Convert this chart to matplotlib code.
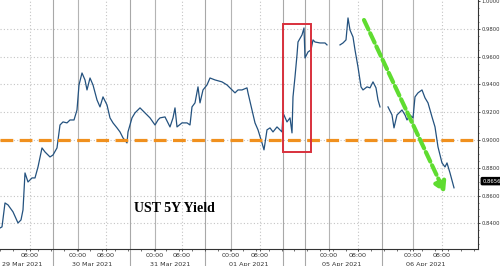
import numpy as np
import matplotlib
matplotlib.use("Agg")
import matplotlib.pyplot as plt
from matplotlib.ticker import MultipleLocator, FixedLocator
import matplotlib.transforms as mtransforms

# Bar index on the compressed (trading-session) time axis, and the 5Y yield
nan = np.nan
bar = [0, 2, 5, 8, 13, 18, 21, 23, 25, 28, 32, 35, 38, 42, 45, 50, 53, 57, 60,
       63, 67, 70, 74, 77, 79, 82, 85, 87, 90, 93, 97, 100, 103, 107, 110, 113,
       117, 120, 123, 127, 128, 132, 135, 140, 145, 150, 155, 158,
       160, 165, 170, 173, 175, 177, 182, 187, 190, 192, 195, 198, 200, 203,
       207, 210, 215, 222, 227, 232, 235, 238, 242, 247, 248, 252, 255, 258,
       262, 264, 267, 270, 273, 277, 280, 282, 283, 287, 290, 292, 293, 295,
       297, 298, 302, 304, 305, 308, 311, 313, 315, 320, 325, 327,
       333,
       340, 343, 346, 348, 350, 353, 355, 358, 361, 363, 367, 370, 373, 376,
       378, 380,
       384,
       388, 392, 394, 397, 402, 405, 407, 410, 413, 415, 418, 422, 425, 428,
       432, 435, 438, 442, 445, 447, 450, 454]
yld = [0.8367, 0.8375, 0.8547, 0.8533, 0.8483, 0.8403, 0.8425, 0.8497, 0.8763,
       0.8698, 0.8727, 0.8727, 0.8806, 0.8943, 0.8914, 0.8878, 0.8892, 0.8943,
       0.9108, 0.9130, 0.9123, 0.9144, 0.9144, 0.9216, 0.9396, 0.9482, 0.9432,
       0.9360, 0.9446, 0.9396, 0.9288, 0.9238, 0.9310, 0.9252, 0.9159, 0.9123,
       0.9087, 0.9058, 0.9015, 0.8979, 0.9058, 0.9159, 0.9195, 0.9231, 0.9195,
       0.9159, 0.9108, 0.9144,
       0.9159, 0.9166, 0.9094, 0.9159, 0.9231, 0.9094, 0.9123, 0.9123, 0.9108,
       0.9238, 0.9267, 0.9382, 0.9267, 0.9360, 0.9396, 0.9446, 0.9432, 0.9418,
       0.9396, 0.9360, 0.9339, 0.9360, 0.9360, 0.9375, 0.9339, 0.9216, 0.9123,
       0.9073, 0.8979, 0.8929, 0.9073, 0.9087, 0.9058, 0.9094, 0.9073, 0.9058,
       0.9195, 0.9130, 0.9159, 0.9051, 0.9310, 0.9454, 0.9612, 0.9705, 0.9756,
       0.9806, 0.9590, 0.9633, 0.9648, 0.9720, 0.9705, 0.9698, 0.9698, 0.9684,
       nan,
       0.9684, 0.9698, 0.9720, 0.9878, 0.9791, 0.9741, 0.9648, 0.9525, 0.9382,
       0.9360, 0.9382, 0.9375, 0.9418, 0.9375, 0.9288, 0.9238,
       nan,
       0.9238, 0.9180, 0.9087, 0.9180, 0.9216, 0.9180, 0.9144, 0.9180, 0.9159,
       0.9310, 0.9339, 0.9360, 0.9303, 0.9267, 0.9166, 0.9094, 0.8950, 0.8835,
       0.8806, 0.8835, 0.8763, 0.8656]
last_value = 0.8656

# axis furniture
hour_ticks = [30, 78, 106, 155, 182, 231, 260, 329, 358, 413, 442]
hour_labels = ["08:00", "00:00", "08:00", "00:00", "08:00", "00:00", "08:00",
               "00:00", "08:00", "00:00", "08:00"]
midnights = [78, 155, 231, 329, 413]
mornings = [30, 106, 182, 260, 358, 442]
day_breaks = [53, 130, 205, 283, 305, 382]
date_pos = [2, 72, 150, 229, 322, 406]
date_labels = ["29 Mar 2021", "30 Mar 2021", "31 Mar 2021", "01 Apr 2021",
               "05 Apr 2021", "06 Apr 2021"]

fig = plt.figure(figsize=(5, 2.66), dpi=100)
ax = fig.add_axes([0, 0.064, 0.956, 0.936])
ax.set_xlim(0, 478)
ax.set_ylim(0.8216, 1.0007)

# grid
for yv in np.arange(0.84, 0.99, 0.02):
    ax.axhline(yv, color="#c4c4c4", lw=0.8, ls=(0, (1, 2)), zorder=0)
for xv in mornings:
    ax.axvline(xv, color="#c4c4c4", lw=0.8, ls=(0, (1, 2)), zorder=0)
for xv in midnights:
    ax.axvline(xv, color="#b4b4b4", lw=0.8, zorder=0)
for xv in day_breaks:
    ax.axvline(xv, ymin=-0.07, ymax=1, color="#a8a8a8", lw=0.8, zorder=0,
               clip_on=False)

# series
ax.plot(bar, yld, color="#24527f", lw=0.9, zorder=3)

# annotations
ax.axhline(0.90, color="#f0901e", lw=2.3, ls=(0, (4, 2)), zorder=4)
ax.add_patch(plt.Rectangle((283, 0.8914), 28, 0.0921, fill=False,
                           ec="#d8303c", lw=1.4, zorder=5))
ax.annotate("", xy=(445, 0.8619), xytext=(364, 0.9863),
            arrowprops=dict(arrowstyle="-|>,head_width=0.35,head_length=0.6",
                            color="#5fdc30", lw=3, ls=(0, (2.5, 1)),
                            shrinkA=0, shrinkB=0), zorder=6)
ax.text(174, 0.8505, "UST 5Y Yield", family="Liberation Serif",
        fontweight="bold", fontsize=10, ha="center", va="center")

# axes styling
for s in ["top", "left"]:
    ax.spines[s].set_visible(False)
for s in ["bottom", "right"]:
    ax.spines[s].set_color("#333333")
    ax.spines[s].set_linewidth(0.8)

ax.yaxis.tick_right()
ax.yaxis.set_major_locator(FixedLocator(np.arange(0.84, 1.001, 0.02)))
ax.yaxis.set_minor_locator(MultipleLocator(0.005))
ax.yaxis.set_major_formatter(plt.FuncFormatter(lambda v, p: f"{v:.4f}"))
ax.tick_params(axis="y", which="major", labelsize=3.8, length=1.5, width=0.6,
               pad=0.8, colors="#333333")
ax.tick_params(axis="y", which="minor", length=1.0, width=0.5,
               colors="#333333")

ax.set_xticks(hour_ticks)
ax.set_xticklabels(hour_labels)
ax.xaxis.set_minor_locator(MultipleLocator(12.8))
ax.tick_params(axis="x", which="major", labelsize=4.6, length=1.5, width=0.6,
               pad=1.5, colors="#333333")
ax.tick_params(axis="x", which="minor", length=1.2, width=0.5,
               colors="#333333")

trans = mtransforms.blended_transform_factory(ax.transData, ax.transAxes)
for xp, lab in zip(date_pos, date_labels):
    ax.text(xp, -0.062, lab, transform=trans, fontsize=4.6, color="#333333",
            ha="left", va="center")

# last value tag
trans_y = mtransforms.blended_transform_factory(ax.transAxes, ax.transData)
ax.text(1.009, last_value + 0.0048, f"{last_value:.4f}", transform=trans_y,
        fontsize=3.8, color="white", ha="left", va="center",
        bbox=dict(boxstyle="round,pad=0.2", fc="black", ec="black"),
        clip_on=False, zorder=10)

fig.savefig("out.png", dpi=100)
